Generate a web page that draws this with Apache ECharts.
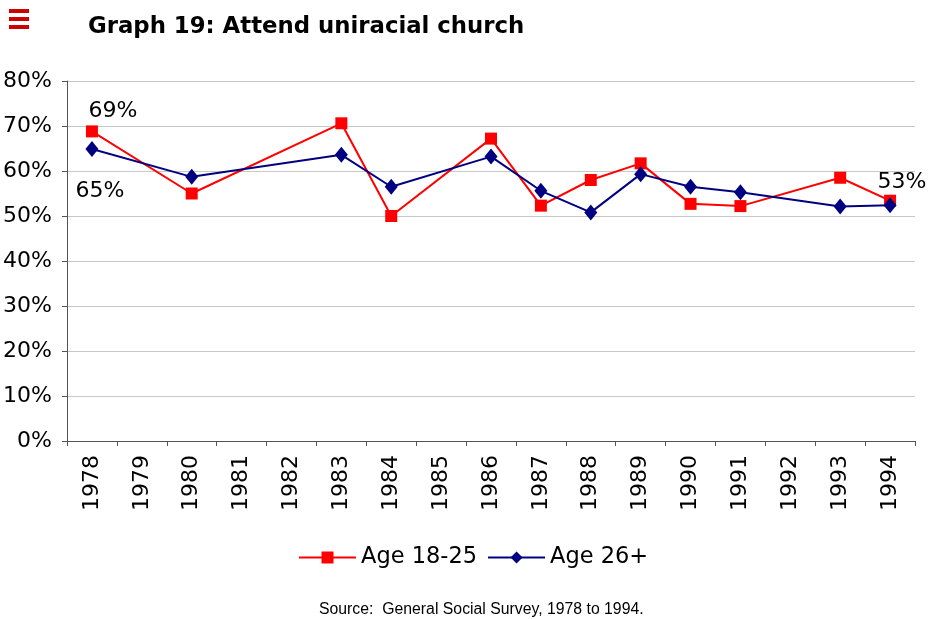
<!DOCTYPE html>
<html>
<head>
<meta charset="utf-8">
<script src="https://cdn.jsdelivr.net/npm/echarts@6/dist/echarts.min.js"></script>
<style>
  html, body { margin: 0; padding: 0; background: #fff; }
  #chart { width: 929px; height: 619px; }
</style>
</head>
<body>
<div id="chart"></div>
<script>
// data (percent), null = no survey that year
const years = ['1978', '1979', '1980', '1981', '1982', '1983', '1984', '1985', '1986',
               '1987', '1988', '1989', '1990', '1991', '1992', '1993', '1994'];
const age1825 = [68.8, null, 55.0, null, null, 70.6, 50.0, null, 67.2, 52.3, 58.0, 61.7, 52.7, 52.2, null, 58.5, 53.4];
const age26 = [64.9, null, 58.7, null, null, 63.6, 56.5, null, 63.2, 55.6, 50.8, 59.3, 56.5, 55.3, null, 52.1, 52.4];
const yTicks = [0, 10, 20, 30, 40, 50, 60, 70, 80];

// which points carry a value label
const redLabels = { 0: { position: 'top', offset: [21, 2] }, 16: { position: 'top', offset: [12, 4] } };
const blueLabels = { 0: { position: 'bottom', offset: [8, 18] } };

const FONT = 'DejaVu Sans';

function withLabels(values, labels) {
    return values.map((v, i) => {
        if (v === null || !labels[i]) return v;
        return {
            value: v,
            label: Object.assign({
                show: true,
                formatter: p => Math.round(p.value) + '%',
                color: '#000', fontFamily: FONT, fontSize: 22
            }, labels[i])
        };
    });
}

const chart = echarts.init(document.getElementById('chart'));

const option = {
    backgroundColor: '#fff',
    animation: false,
    title: {
        text: 'Graph 19: Attend uniracial church',
        left: 83, top: 11,
        textStyle: { fontFamily: FONT, fontWeight: 'bold', fontSize: 22.8, color: '#000' }
    },
    graphic: [
        { type: 'rect', shape: { x: 9, y: 9, width: 20, height: 4 }, style: { fill: '#cc0000' } },
        { type: 'rect', shape: { x: 9, y: 17, width: 20, height: 4 }, style: { fill: '#cc0000' } },
        { type: 'rect', shape: { x: 9, y: 25, width: 20, height: 4 }, style: { fill: '#cc0000' } },
        {
            type: 'text', left: 319, top: 602,
            style: { text: 'Source:  General Social Survey, 1978 to 1994.', fontFamily: 'Liberation Sans', fontSize: 15.8, fill: '#000' }
        }
    ],
    legend: {
        data: ['Age 18-25', 'Age 26+'],
        left: 293, top: 541,
        itemWidth: 57, itemHeight: 15, itemGap: 10,
        textStyle: { fontFamily: FONT, fontSize: 22.5, color: '#000' }
    },
    grid: { left: 67, right: 14, top: 81, bottom: 178 },
    xAxis: {
        type: 'category',
        data: years,
        boundaryGap: true,
        axisLine: { lineStyle: { color: '#555', width: 1 } },
        axisTick: { show: true, length: 5, lineStyle: { color: '#555' } },
        axisLabel: { rotate: 90, margin: 14, color: '#000', fontFamily: FONT, fontSize: 22, interval: 0 },
        splitLine: { show: false }
    },
    yAxis: {
        type: 'value',
        min: yTicks[0], max: yTicks[yTicks.length - 1], interval: 10,
        axisLine: { show: true, lineStyle: { color: '#555', width: 1 } },
        axisTick: { show: true, length: 5, lineStyle: { color: '#555' } },
        axisLabel: { formatter: '{value}%', margin: 15, color: '#000', fontFamily: FONT, fontSize: 22 },
        splitLine: { show: true, lineStyle: { color: '#c8c8c8', width: 1 } }
    },
    series: [
        {
            name: 'Age 18-25',
            type: 'line',
            data: withLabels(age1825, redLabels),
            connectNulls: true,
            symbol: 'rect', symbolSize: 12,
            lineStyle: { color: '#ff0000', width: 2 },
            itemStyle: { color: '#ff0000' }
        },
        {
            name: 'Age 26+',
            type: 'line',
            data: withLabels(age26, blueLabels),
            connectNulls: true,
            symbol: 'diamond', symbolSize: [13, 16],
            lineStyle: { color: '#000080', width: 2 },
            itemStyle: { color: '#000080' }
        }
    ]
};

chart.setOption(option);
</script>
</body>
</html>
